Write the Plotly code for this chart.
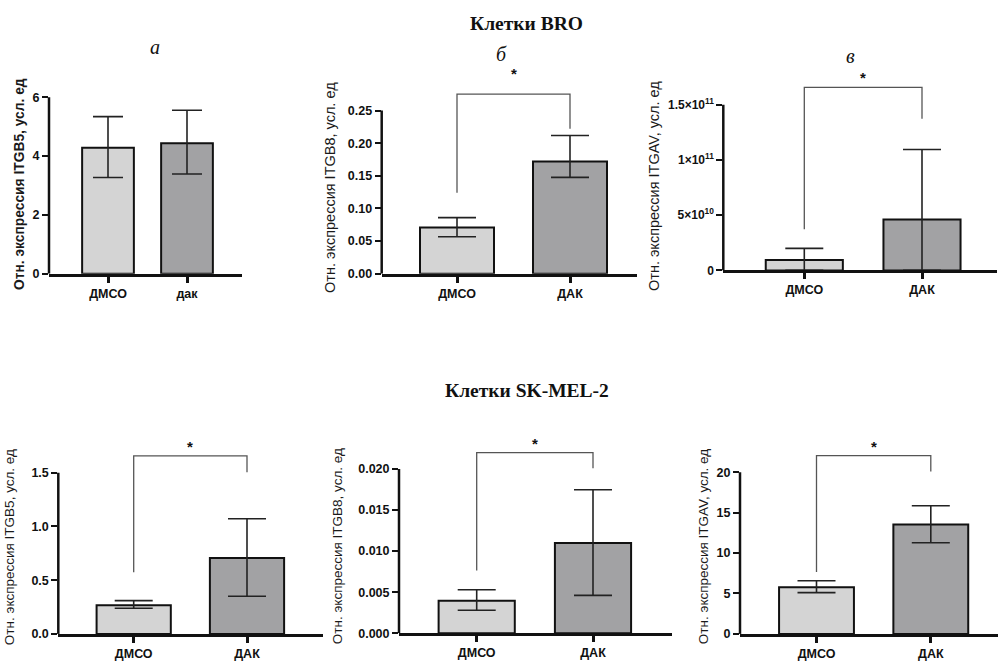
import plotly.graph_objects as go

W, H = 998, 661

# ---------------- data ----------------
categories = ["ДМСО", "ДАК"]
categories_a = ["ДМСО", "дак"]

# Клетки BRO
bro_itgb5 = [4.28, 4.44]
bro_itgb5_err_plus = [1.06, 1.12]
bro_itgb5_err_minus = [1.01, 1.05]

bro_itgb8 = [0.0707, 0.172]
bro_itgb8_err_plus = [0.0153, 0.0397]
bro_itgb8_err_minus = [0.014, 0.0244]

bro_itgav = [0.95e10, 4.62e10]
bro_itgav_err_plus = [1.05e10, 6.34e10]
bro_itgav_err_minus = [0.95e10, 4.62e10]

# Клетки SK-MEL-2
sk_itgb5 = [0.267, 0.706]
sk_itgb5_err_plus = [0.043, 0.365]
sk_itgb5_err_minus = [0.028, 0.356]

sk_itgb8 = [0.00394, 0.0110]
sk_itgb8_err_plus = [0.00136, 0.00647]
sk_itgb8_err_minus = [0.00114, 0.00639]

sk_itgav = [5.76, 13.53]
sk_itgav_err_plus = [0.82, 2.33]
sk_itgav_err_minus = [0.65, 2.26]

# y tick values / labels
ticks_bro_itgb5 = [0, 2, 4, 6]
ticktext_bro_itgb5 = ["0", "2", "4", "6"]
ticks_bro_itgb8 = [0, 0.05, 0.10, 0.15, 0.20, 0.25]
ticktext_bro_itgb8 = ["0.00", "0.05", "0.10", "0.15", "0.20", "0.25"]
ticks_bro_itgav = [0, 5e10, 1e11, 1.5e11]
ticktext_bro_itgav = ["0", "5×10<sup>10</sup>", "1×10<sup>11</sup>", "1.5×10<sup>11</sup>"]
ticks_sk_itgb5 = [0, 0.5, 1.0, 1.5]
ticktext_sk_itgb5 = ["0.0", "0.5", "1.0", "1.5"]
ticks_sk_itgb8 = [0, 0.005, 0.010, 0.015, 0.020]
ticktext_sk_itgb8 = ["0.000", "0.005", "0.010", "0.015", "0.020"]
ticks_sk_itgav = [0, 5, 10, 15, 20]
ticktext_sk_itgav = ["0", "5", "10", "15", "20"]

# significance brackets: [left leg bottom, bracket height, right leg bottom]
bracket_bro_itgb8 = [0.124, 0.275, 0.222]
bracket_bro_itgav = [3.73e10, 1.658e11, 1.374e11]
bracket_sk_itgb5 = [0.574, 1.656, 1.503]
bracket_sk_itgb8 = [0.00763, 0.0220, 0.0201]
bracket_sk_itgav = [7.65, 22.06, 20.1]

ytitle_itgb5 = "Отн. экспрессия ITGB5, усл. ед"
ytitle_itgb8 = "Отн. экспрессия ITGB8, усл. ед"
ytitle_itgav = "Отн. экспрессия ITGAV, усл. ед"

# ---------------- layout (pixel geometry) ----------------
panels = [
    dict(vals=bro_itgb5, ep=bro_itgb5_err_plus, em=bro_itgb5_err_minus, cats=categories_a,
         tv=ticks_bro_itgb5, tt=ticktext_bro_itgb5, br=None, capw=15,
         xl=49, xr=242, c0=108, c1=187, zero=276.7, ttop=98.3, dtop=60,
         title=ytitle_itgb5, tx=19, ty=186, tbold=True, tsz=13.8, tfs=12.5, starshift=0),
    dict(vals=bro_itgb8, ep=bro_itgb8_err_plus, em=bro_itgb8_err_minus, cats=categories,
         tv=ticks_bro_itgb8, tt=ticktext_bro_itgb8, br=bracket_bro_itgb8, capw=19,
         xl=381.7, xr=637, c0=457, c1=570, zero=276.7, ttop=111.7, dtop=60,
         title=ytitle_itgb8, tx=330, ty=190, tbold=False, tsz=14.5, tfs=12.5, starshift=10),
    dict(vals=bro_itgav, ep=bro_itgav_err_plus, em=bro_itgav_err_minus, cats=categories,
         tv=ticks_bro_itgav, tt=ticktext_bro_itgav, br=bracket_bro_itgav, capw=19,
         xl=723.3, xr=997, c0=804.3, c1=922, zero=273.3, ttop=106, dtop=60,
         title=ytitle_itgav, tx=654, ty=188, tbold=False, tsz=14.5, tfs=12, starshift=-1),
    dict(vals=sk_itgb5, ep=sk_itgb5_err_plus, em=sk_itgb5_err_minus, cats=categories,
         tv=ticks_sk_itgb5, tt=ticktext_sk_itgb5, br=bracket_sk_itgb5, capw=19,
         xl=58.3, xr=322.7, c0=133.7, c1=247, zero=640.7, ttop=477.7, dtop=430,
         title=ytitle_itgb5, tx=9, ty=553, tbold=False, tsz=13.5, tfs=12.5, starshift=-1),
    dict(vals=sk_itgb8, ep=sk_itgb8_err_plus, em=sk_itgb8_err_minus, cats=categories,
         tv=ticks_sk_itgb8, tt=ticktext_sk_itgb8, br=bracket_sk_itgb8, capw=19,
         xl=399, xr=672, c0=476.7, c1=593, zero=640, ttop=474, dtop=430,
         title=ytitle_itgb8, tx=337, ty=552, tbold=False, tsz=13.5, tfs=12.5, starshift=-1),
    dict(vals=sk_itgav, ep=sk_itgav_err_plus, em=sk_itgav_err_minus, cats=categories,
         tv=ticks_sk_itgav, tt=ticktext_sk_itgav, br=bracket_sk_itgav, capw=19,
         xl=740, xr=998, c0=816.5, c1=930.8, zero=640.7, ttop=477.3, dtop=430,
         title=ytitle_itgav, tx=703, ty=553, tbold=False, tsz=13.5, tfs=12.5, starshift=-1),
]

bar_colors = ["#d4d4d4", "#a2a2a4"]
SANS = "Liberation Sans, Arial, sans-serif"
SERIF = "Liberation Serif, Times New Roman, serif"

fig = go.Figure()
layout = dict(
    width=W, height=H, margin=dict(l=0, r=0, t=0, b=0),
    paper_bgcolor="white", plot_bgcolor="rgba(0,0,0,0)",
    showlegend=False, bargap=0.3,
)
shapes = []
annotations = []

for i, p in enumerate(panels):
    n = i + 1
    sfx = "" if n == 1 else str(n)
    xa, ya = "x" + sfx, "y" + sfx
    step = p["c1"] - p["c0"]
    xmin = -(p["c0"] - p["xl"]) / step
    xmax = 1 + (p["xr"] - p["c1"]) / step
    top_tick = p["tv"][-1]
    ymax = top_tick * (p["zero"] - p["dtop"]) / (p["zero"] - p["ttop"])

    fig.add_trace(go.Bar(
        x=[0, 1], y=p["vals"], width=0.655,
        marker=dict(color=bar_colors, line=dict(color="#111111", width=2)),
        error_y=dict(type="data", symmetric=False, array=p["ep"], arrayminus=p["em"],
                     color="#222222", thickness=1.6, width=p["capw"]),
        xaxis=xa, yaxis=ya, hoverinfo="skip",
    ))

    layout["xaxis" + sfx] = dict(
        domain=[p["xl"] / W, p["xr"] / W], range=[xmin, xmax], anchor=ya,
        tickvals=[0, 1], ticktext=p["cats"], ticks="outside", ticklen=6, tickwidth=2.5,
        tickcolor="#111111", showline=True, linewidth=2.5, linecolor="#111111",
        showgrid=False, zeroline=False, fixedrange=True,
        tickfont=dict(family=SANS, size=12.5, color="#111111", weight="bold"),
    )
    layout["yaxis" + sfx] = dict(
        domain=[1 - p["zero"] / H, 1 - p["dtop"] / H], range=[0, ymax], anchor=xa,
        tickvals=p["tv"], ticktext=p["tt"], ticks="outside", ticklen=6, tickwidth=2,
        tickcolor="#111111", showline=False, showgrid=False, zeroline=False, fixedrange=True,
        tickfont=dict(family=SANS, size=p["tfs"], color="#111111", weight="bold"),
    )
    # y axis line from 0 to the top tick
    shapes.append(dict(type="line", xref=xa + " domain", yref=ya, x0=0, x1=0,
                       y0=0, y1=top_tick, line=dict(color="#111111", width=2.5)))

    # significance bracket
    if p["br"] is not None:
        lb, bh, rb = p["br"]
        shapes.append(dict(type="path", xref=xa, yref=ya,
                           path=f"M 0,{lb} L 0,{bh} L 1,{bh} L 1,{rb}",
                           line=dict(color="#555555", width=1.3)))
        annotations.append(dict(x=0.5, y=bh, xref=xa, yref=ya, text="*", showarrow=False,
                                yanchor="bottom", yshift=p["starshift"],
                                font=dict(family=SANS, size=15, color="#111111", weight="bold")))

    # y-axis title
    annotations.append(dict(x=p["tx"] / W, y=1 - p["ty"] / H, xref="paper", yref="paper",
                            text=p["title"], textangle=-90, showarrow=False,
                            xanchor="center", yanchor="middle",
                            font=dict(family=SANS, size=p["tsz"], color="#1a1a1a",
                                      weight="bold" if p["tbold"] else "normal")))

# section titles and panel letters
for txt, x, y in [("Клетки BRO", 526, 24), ("Клетки SK-MEL-2", 527, 395)]:
    annotations.append(dict(x=x / W, y=1 - y / H, xref="paper", yref="paper", text=txt,
                            showarrow=False, xanchor="center", yanchor="middle",
                            font=dict(family=SERIF, size=19.5, color="#111111", weight="bold")))
for txt, x, y in [("а", 155, 48), ("б", 502, 55), ("в", 850, 57)]:
    annotations.append(dict(x=x / W, y=1 - y / H, xref="paper", yref="paper", text=txt,
                            showarrow=False, xanchor="center", yanchor="middle",
                            font=dict(family=SERIF, size=20, color="#111111", style="italic")))

layout["shapes"] = shapes
layout["annotations"] = annotations
fig.update_layout(**layout)
fig.write_html("out.html")
